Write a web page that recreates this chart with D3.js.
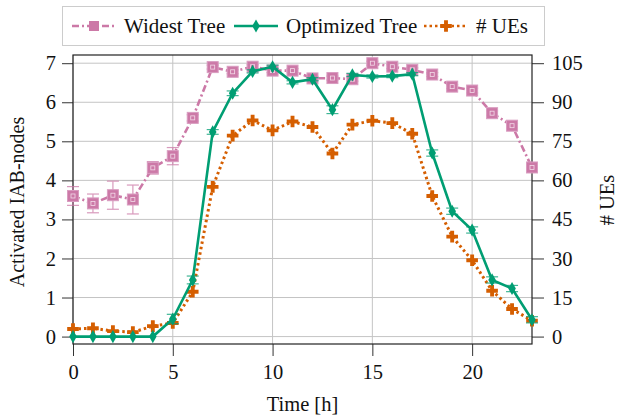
<!DOCTYPE html>
<html>
<head>
<meta charset="utf-8">
<script src="https://cdn.jsdelivr.net/npm/d3@7"></script>
<style>
  body { margin: 0; background: #fff; }
</style>
</head>
<body>
<script>
// hours of the day
var hours = d3.range(0, 24);

// Widest Tree (left axis, activated IAB-nodes)
var widest = [3.6, 3.41, 3.62, 3.51, 4.32, 4.62, 5.6, 6.9, 6.78, 6.91, 6.81, 6.81,
              6.61, 6.62, 6.59, 7.0, 6.91, 6.83, 6.71, 6.4, 6.3, 5.72, 5.4, 4.33];
var widestErr = [0.24, 0.24, 0.36, 0.37, 0.16, 0.22, 0.08, 0.05, 0.05, 0.05, 0.05, 0.05,
                 0.05, 0.05, 0.05, 0.05, 0.05, 0.05, 0.05, 0.05, 0.06, 0.06, 0.06, 0.06];

// Optimized Tree (left axis)
var optimized = [0, 0, 0, 0, 0, 0.45, 1.45, 5.24, 6.23, 6.79, 6.91, 6.51,
                 6.59, 5.81, 6.7, 6.66, 6.67, 6.72, 4.7, 3.21, 2.73, 1.45, 1.23, 0.43];
var optimizedErr = [0, 0, 0, 0, 0, 0.12, 0.1, 0.06, 0.06, 0.04, 0.04, 0.04,
                    0.04, 0.1, 0.04, 0.04, 0.04, 0.04, 0.08, 0.08, 0.08, 0.08, 0.08, 0.08];

// number of UEs (right axis)
var ues = [2.9, 3.2, 2.1, 1.7, 4.0, 5.2, 17.2, 57.5, 77.2, 83.0, 79.2, 82.6,
           80.5, 70.3, 81.4, 82.9, 82.0, 77.9, 54.0, 38.4, 29.3, 17.6, 10.6, 6.1];

var leftTicks = [0, 1, 2, 3, 4, 5, 6, 7];
var rightTicks = [0, 15, 30, 45, 60, 75, 90, 105];
var xTicks = [0, 5, 10, 15, 20];

var pink = "#cc79a7", green = "#009e73", orange = "#d55e00";
var serif = "Liberation Serif";

var width = 619, height = 416;
var margin = {top: 55, right: 87, bottom: 72, left: 73};

var svg = d3.select("body").append("svg")
    .attr("width", width)
    .attr("height", height)
    .attr("font-family", serif);

var x = d3.scaleLinear().domain([0, 23]).range([margin.left, width - margin.right]);
var y = d3.scaleLinear().domain([-0.19, 7.21]).range([height - margin.bottom, margin.top]);
var y2 = d3.scaleLinear().domain([-0.19 * 15, 7.21 * 15]).range([height - margin.bottom, margin.top]);

// grid
svg.append("g").selectAll("line").data(xTicks).enter().append("line")
    .attr("x1", d => x(d)).attr("x2", d => x(d))
    .attr("y1", margin.top).attr("y2", height - margin.bottom)
    .attr("stroke", "#c4c4c4").attr("stroke-width", 1);
svg.append("g").selectAll("line").data(leftTicks).enter().append("line")
    .attr("x1", margin.left).attr("x2", width - margin.right)
    .attr("y1", d => y(d)).attr("y2", d => y(d))
    .attr("stroke", "#c4c4c4").attr("stroke-width", 1);

// axes
var xAxis = svg.append("g")
    .attr("transform", "translate(0," + (height - margin.bottom) + ")")
    .call(d3.axisBottom(x).tickValues(xTicks).tickSize(12).tickPadding(8));
var yAxis = svg.append("g")
    .attr("transform", "translate(" + margin.left + ",0)")
    .call(d3.axisLeft(y).tickValues(leftTicks).tickSize(11).tickPadding(6));
var yAxis2 = svg.append("g")
    .attr("transform", "translate(" + (width - margin.right) + ",0)")
    .call(d3.axisRight(y2).tickValues(rightTicks).tickSize(12).tickPadding(8));

[xAxis, yAxis, yAxis2].forEach(function(g){
    g.attr("font-family", serif).attr("font-size", 20.5);
    g.select(".domain").remove();
    g.selectAll("line").attr("stroke", "#333");
    g.selectAll("text").attr("fill", "#111");
});

// frame
svg.append("rect")
    .attr("x", margin.left).attr("y", margin.top)
    .attr("width", width - margin.left - margin.right)
    .attr("height", height - margin.top - margin.bottom)
    .attr("fill", "none").attr("stroke", "#222").attr("stroke-width", 1.2);

// error bars
function errBars(vals, errs, color) {
    var g = svg.append("g").attr("stroke", color).attr("stroke-width", 1.2).attr("opacity", 0.75);
    hours.forEach(function(h, i){
        if (!errs[i]) return;
        g.append("line").attr("x1", x(h)).attr("x2", x(h))
            .attr("y1", y(vals[i] - errs[i])).attr("y2", y(vals[i] + errs[i]));
        [vals[i] - errs[i], vals[i] + errs[i]].forEach(function(v){
            g.append("line").attr("x1", x(h) - 6).attr("x2", x(h) + 6)
                .attr("y1", y(v)).attr("y2", y(v));
        });
    });
}

var lineW = d3.line().x((d, i) => x(hours[i])).y(d => y(d));
var lineU = d3.line().x((d, i) => x(hours[i])).y(d => y2(d));

// Widest Tree
errBars(widest, widestErr, pink);
svg.append("path").datum(widest).attr("d", lineW)
    .attr("fill", "none").attr("stroke", pink).attr("stroke-width", 2.6)
    .attr("stroke-dasharray", "7,3,2,3");
svg.append("g").selectAll("rect").data(widest).enter().append("rect")
    .attr("x", (d, i) => x(hours[i]) - 5.5).attr("y", d => y(d) - 5.5)
    .attr("width", 11).attr("height", 11)
    .attr("fill", pink).attr("stroke", "#d99cc0").attr("stroke-width", 1);
svg.append("g").selectAll("rect").data(widest).enter().append("rect")
    .attr("x", (d, i) => x(hours[i]) - 2).attr("y", d => y(d) - 2)
    .attr("width", 4).attr("height", 4)
    .attr("fill", "none").attr("stroke", "#f3dbe9").attr("stroke-width", 0.8);

// UEs
svg.append("path").datum(ues).attr("d", lineU)
    .attr("fill", "none").attr("stroke", orange).attr("stroke-width", 3)
    .attr("stroke-dasharray", "2.5,3");
var plus = d3.symbol().type(d3.symbolCross).size(75);
svg.append("g").selectAll("path").data(ues).enter().append("path")
    .attr("d", plus)
    .attr("transform", (d, i) => "translate(" + x(hours[i]) + "," + y2(d) + ")")
    .attr("fill", orange);

// Optimized Tree
errBars(optimized, optimizedErr, green);
svg.append("path").datum(optimized).attr("d", lineW)
    .attr("fill", "none").attr("stroke", green).attr("stroke-width", 2.6);
var diamond = d3.symbol().type(d3.symbolDiamond).size(50);
svg.append("g").selectAll("path").data(optimized).enter().append("path")
    .attr("d", diamond)
    .attr("transform", (d, i) => "translate(" + x(hours[i]) + "," + y(d) + ")")
    .attr("fill", green);

// axis titles
svg.append("text")
    .attr("x", (margin.left + width - margin.right) / 2).attr("y", 411)
    .attr("text-anchor", "middle").attr("font-family", serif).attr("font-size", 20.5)
    .attr("fill", "#111")
    .text("Time [h]");
svg.append("text")
    .attr("transform", "translate(24,202) rotate(-90)")
    .attr("text-anchor", "middle").attr("font-family", serif).attr("font-size", 20)
    .attr("fill", "#111")
    .text("Activated IAB-nodes");
svg.append("text")
    .attr("transform", "translate(614,200) rotate(-90)")
    .attr("text-anchor", "middle").attr("font-family", serif).attr("font-size", 20.5)
    .attr("fill", "#111")
    .text("# UEs");

// legend
var legendItems = [
    {label: "Widest Tree", color: pink, x0: 72, dash: "7,3,2,3", mark: "square"},
    {label: "Optimized Tree", color: green, x0: 234, dash: null, mark: "diamond"},
    {label: "# UEs", color: orange, x0: 424, dash: "2.5,3", mark: "plus"}
];
svg.append("rect")
    .attr("x", 62.5).attr("y", 6.5).attr("width", 482).attr("height", 39)
    .attr("fill", "#fff").attr("stroke", "#ccc").attr("stroke-width", 1);
var leg = svg.append("g").selectAll("g").data(legendItems).enter().append("g")
    .attr("transform", d => "translate(" + d.x0 + ",26)");
leg.append("line").attr("x1", 0).attr("x2", 44).attr("y1", 0).attr("y2", 0)
    .attr("stroke", d => d.color).attr("stroke-width", 2.6)
    .attr("stroke-dasharray", d => d.dash);
leg.append("path")
    .attr("d", function(d){
        if (d.mark === "square") return d3.symbol().type(d3.symbolSquare).size(100)();
        if (d.mark === "diamond") return diamond();
        return plus();
    })
    .attr("transform", "translate(22,0)")
    .attr("fill", d => d.color);
leg.append("text").attr("x", 52).attr("y", 7)
    .attr("font-family", serif).attr("font-size", 21).attr("fill", "#111")
    .text(d => d.label);
</script>
</body>
</html>
